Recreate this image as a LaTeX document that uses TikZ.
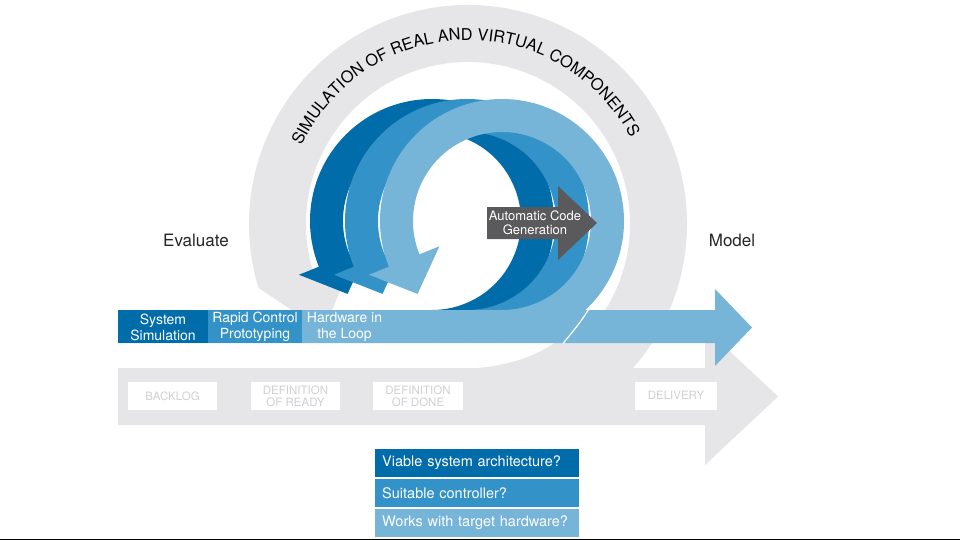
\documentclass[tikz,border=0pt]{standalone}
\usepackage{fontspec}
\setmainfont{TeX Gyre Heros}
\usetikzlibrary{decorations.text}
\definecolor{dblue}{RGB}{0,108,170}
\definecolor{mblue}{RGB}{51,146,199}
\definecolor{lblue}{RGB}{118,180,216}
\definecolor{lgray}{RGB}{230,230,232}
\definecolor{boxtxt}{RGB}{208,208,210}
\definecolor{dgray}{RGB}{90,90,92}
\begin{document}
\begin{tikzpicture}[x=1pt,y=-1pt,
  barlabel/.style={text=white, font=\fontsize{14}{16}\selectfont, align=center, inner sep=0},
  graybox/.style={fill=white, text=boxtxt, font=\fontsize{11.5}{12}\selectfont, align=center, minimum width=89pt, minimum height=28pt, inner sep=0},
  qbox/.style={text=white, font=\fontsize{14.5}{16}\selectfont, anchor=north west, minimum width=204pt, minimum height=28pt, text width=190pt, inner xsep=7pt, inner ysep=0, align=left},
  sidelabel/.style={font=\fontsize{17}{18}\selectfont, text=black!85}
]
\useasboundingbox (0,0) rectangle (960,540);
\fill[white] (0,0) rectangle (960,540);
% gray shaft and head
\fill[lgray] (118,368) -- (705,368) -- (705,328) -- (778,396.5) -- (705,465) -- (705,425) -- (118,425) -- cycle;
% gray loop
\begin{scope}[shift={(468,224)}]
\fill[lgray] (62:219) arc[start angle=62, end angle=-197, radius=219] -- (143.5:180) -- (-197:120) -- (-197:162) arc[start angle=-197, end angle=62, radius=162] -- cycle;
\end{scope}
\fill[lgray] (470,368.5) .. controls (515,366) and (545,352) .. (565,335) -- (620,335) -- (620,369) -- cycle;
% gray boxes
\node[graybox] (backlog) at (172.5,396) {BACKLOG};
\node[graybox] (ready) at (295.5,396) {DEFINITION\\OF READY};
\node[graybox, minimum width=90pt] (done) at (418,396) {DEFINITION\\OF DONE};
\node[graybox, minimum width=82pt] (delivery) at (676,395.5) {DELIVERY};
% blue loops
\foreach \cx/\col in {432/dblue, 467/mblue, 502/lblue} {
 \begin{scope}[shift={(\cx,221)}]
  \fill[\col] (90:122) arc[start angle=90, end angle=-202, radius=122] -- (-202:143.5) -- (139.2:111.6) -- (-202:67.5) -- (-202:89) arc[start angle=-202, end angle=90, radius=89] -- cycle;
 \end{scope}
}
% blue bar
\fill[lblue] (118,310) -- (715,310) -- (715,289) -- (752,327.5) -- (715,366) -- (715,343) -- (118,343) -- cycle;
\fill[dblue] (118,310) rectangle (208,343);
\fill[mblue] (208,310) rectangle (302,343);
\draw[white, line width=1.2pt] (589,309) .. controls (579,324) .. (563,343.5);
\node[barlabel] (syssim) at (163,327) {System\\Simulation};
\node[barlabel] (rcp) at (255,327) {Rapid Control\\Prototyping};
\node[barlabel] (hil) at (344.5,327) {Hardware in\\the Loop};
% code generation arrow
\fill[dgray] (487,207) -- (558,207) -- (558,186) -- (597,223) -- (558,260) -- (558,239) -- (487,239) -- cycle;
\node[text=white, font=\fontsize{13}{14}\selectfont, align=center, inner sep=0] (acg) at (535,222.5) {Automatic Code\\Generation};
% arc text
\begin{scope}[shift={(468,224)}]
\path[decorate, decoration={text along path, text align=center, text={|\fontsize{16.3}{16}\selectfont|SIMULATION OF REAL AND VIRTUAL COMPONENTS}}] (193.6:184) arc[start angle=193.6, end angle=343.6, radius=184];
\end{scope}
% side labels
\node[sidelabel] (evaluate) at (196,240) {Evaluate};
\node[sidelabel] (model) at (732,240) {Model};
% question boxes
\node[qbox, fill=dblue] (q1) at (375,449) {Viable system architecture?};
\node[qbox, fill=mblue] (q2) at (375,479) {Suitable controller?};
\node[qbox, fill=lblue] (q3) at (375,509) {Works with target hardware?};
% bottom line
\fill[black] (0,538.5) rectangle (960,540);
\end{tikzpicture}
\end{document}
